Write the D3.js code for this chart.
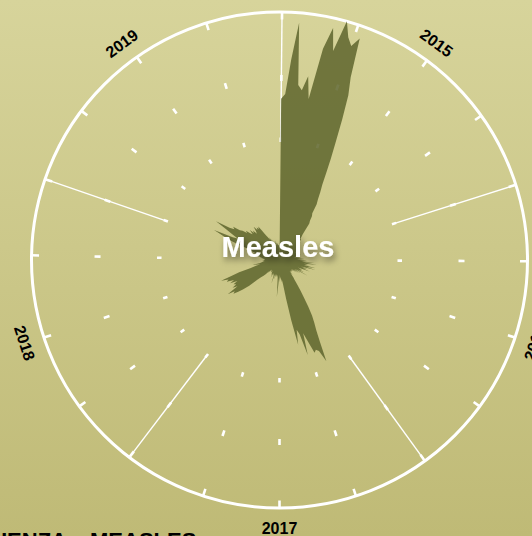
<!DOCTYPE html>
<html lang="en">
<head>
    <meta charset="UTF-8">
    <title>Measles</title>
    <script src="https://cdn.jsdelivr.net/npm/d3@7/dist/d3.min.js"></script>
    <style>
        body { margin: 0; overflow: hidden; }
        text { font-family: "Liberation Sans", Arial, sans-serif; }
    </style>
</head>
<body>
<svg width="532" height="536" id="main"></svg>
<script>

    // weekly search interest (0-100), one array per year, weeks start on Sunday
    let w2015 = [65, 67, 81, 96, 71, 69, 75, 66, 87, 96, 87, 100, 94, 91, 95, 79, 72, 62, 53, 46,
        40, 35, 32, 29, 27, 23, 22, 20, 19, 16, 14, 13, 12, 12, 11, 10, 11, 10, 9, 9,
        10, 8, 9, 8, 8, 9, 7, 8, 8, 7, 8, 7];
    let w2016 = [8, 7, 9, 7, 8, 6, 7, 9, 7, 8, 10, 7, 10, 8, 11, 9, 14, 10, 15, 10,
        12, 10, 15, 11, 15, 9, 12, 10, 13, 8, 10, 9, 11, 8, 13, 7, 10, 7, 9, 6,
        8, 6, 7, 6, 7, 6, 7, 6, 8, 7, 9, 10];
    let w2017 = [12, 15, 18, 22, 26, 29, 32, 37, 45, 40, 39, 40, 35, 31, 40, 31, 29, 35, 25, 16,
        10, 8, 9, 7, 8, 6, 9, 7, 10, 15, 8, 6, 7, 6, 7, 6, 6, 8, 6, 7,
        10, 6, 7, 6, 6, 8, 6, 7, 6, 6, 5, 6, 6];
    let w2018 = [5, 6, 5, 7, 6, 8, 9, 10, 12, 16, 19, 21, 23, 22, 25, 20, 22, 20, 21, 19,
        22, 20, 23, 22, 25, 20, 17, 12, 10, 8, 9, 11, 7, 8, 6, 7, 6, 7, 6, 6,
        6, 7, 6, 8, 7, 9, 8, 10, 9, 11, 10, 12];
    let w2019 = [12, 17, 22, 25, 29, 21, 19, 22, 25, 30, 24, 22, 23, 20, 19, 17, 18, 16, 15, 17,
        15, 16, 14, 15, 17, 15, 16, 15, 16, 14, 12, 11, 10, 9, 10, 8, 9, 8, 8, 7,
        8, 7, 7, 8, 6, 7, 6, 7, 6, 6, 6, 6];
    let years = [2015, 2016, 2017, 2018, 2019];
    let title = "Measles";

    draw();

    function draw() {
        let width = 532, height = 536;
        let cx = 279.5, cy = 260, outer = 248;
        let svg = d3.select('#main');

        let yearly = [w2015, w2016, w2017, w2018, w2019];
        let data = [];
        years.forEach((yr, k) => {
            let weeks = d3.timeSunday.range(new Date(yr, 0, 1), new Date(yr + 1, 0, 1));
            weeks.forEach((d, i) => data.push({date: d, value: yearly[k][i]}));
        });

        let angle = d3.scaleTime()
            .domain([new Date(2015, 0, 1), new Date(2020, 0, 1)])
            .range([0, 2 * Math.PI]);
        let radius = d3.scaleLinear()
            .domain([0, 100])
            .range([0, outer]);

        let defs = svg.append("defs");
        let grad = defs.append("linearGradient")
            .attr("id", "bg").attr("x1", 0).attr("y1", 0).attr("x2", 0).attr("y2", 1);
        grad.append("stop").attr("offset", "0%").attr("stop-color", "#d7d49b");
        grad.append("stop").attr("offset", "100%").attr("stop-color", "#bfba76");
        defs.append("filter")
            .attr("id", "shadow").attr("x", "-20%").attr("y", "-40%")
            .attr("width", "140%").attr("height", "200%")
            .append("feDropShadow")
            .attr("dx", 2).attr("dy", 4).attr("stdDeviation", 3)
            .attr("flood-color", "#000").attr("flood-opacity", 0.45);

        svg.append("rect")
            .attr("width", width).attr("height", height)
            .attr("fill", "url(#bg)");

        let g = svg.append("g").attr("transform", `translate(${cx},${cy})`);
        let pt = (a, r) => [r * Math.sin(a), -r * Math.cos(a)];

        // quarter ticks, first sunday of each quarter
        let quarters = d3.timeMonth.every(3)
            .range(new Date(2015, 0, 1), new Date(2020, 0, 1))
            .map(d => d3.timeSunday.ceil(d));
        let yearStarts = quarters.filter(d => d.getMonth() === 0);

        g.append("g")
            .selectAll("line")
            .data(yearStarts)
            .join("line")
            .attr("x1", d => pt(angle(d), 120)[0])
            .attr("y1", d => pt(angle(d), 120)[1])
            .attr("x2", d => pt(angle(d), outer)[0])
            .attr("y2", d => pt(angle(d), outer)[1])
            .attr("stroke", "#fff")
            .attr("stroke-width", 1.4);

        let dashes = [];
        quarters.forEach(d => {
            dashes.push({a: angle(d), r0: 118, r1: 122.5});
            dashes.push({a: angle(d), r0: 179, r1: 185});
            dashes.push({a: angle(d), r0: 240.5, r1: outer});
        });
        g.append("g")
            .selectAll("line")
            .data(dashes)
            .join("line")
            .attr("x1", d => pt(d.a, d.r0)[0])
            .attr("y1", d => pt(d.a, d.r0)[1])
            .attr("x2", d => pt(d.a, d.r1)[0])
            .attr("y2", d => pt(d.a, d.r1)[1])
            .attr("stroke", "#fff")
            .attr("stroke-width", 2.6);

        g.append("circle")
            .attr("r", outer)
            .attr("fill", "none")
            .attr("stroke", "#fff")
            .attr("stroke-width", 3);

        let area = d3.areaRadial()
            .angle(d => angle(d.date))
            .innerRadius(0)
            .outerRadius(d => radius(d.value))
            .curve(d3.curveLinear);

        g.append("path")
            .datum(data)
            .attr("d", area)
            .attr("fill", "#61672f")
            .attr("fill-opacity", 0.87);

        // year labels at the middle of each year
        g.append("g")
            .selectAll("text")
            .data(years)
            .join("text")
            .attr("transform", yr => {
                let mid = new Date(yr, 6, 2);
                let deg = angle(mid) * 180 / Math.PI;
                let p = pt(angle(mid), 268);
                let rot = (deg > 90 && deg < 270) ? deg - 180 : deg;
                return `translate(${p[0]},${p[1]}) rotate(${rot})`;
            })
            .attr("text-anchor", "middle")
            .attr("dy", "0.36em")
            .attr("font-size", 16)
            .attr("font-weight", "bold")
            .attr("fill", "#000")
            .text(d => d);

        g.append("text")
            .attr("x", -1.5)
            .attr("y", -3)
            .attr("text-anchor", "middle")
            .attr("font-size", 29)
            .attr("font-weight", "bold")
            .attr("fill", "#fff")
            .attr("filter", "url(#shadow)")
            .text(title);

        // labels under the chart, mostly cut off by the window
        svg.append("text")
            .attr("x", 67).attr("y", 548)
            .attr("text-anchor", "end")
            .attr("font-size", 22).attr("font-weight", "bold")
            .text("INFLUENZA");
        svg.append("text")
            .attr("x", 90).attr("y", 548)
            .attr("font-size", 22).attr("font-weight", "bold")
            .text("MEASLES");
    }
</script>
</body>
</html>
